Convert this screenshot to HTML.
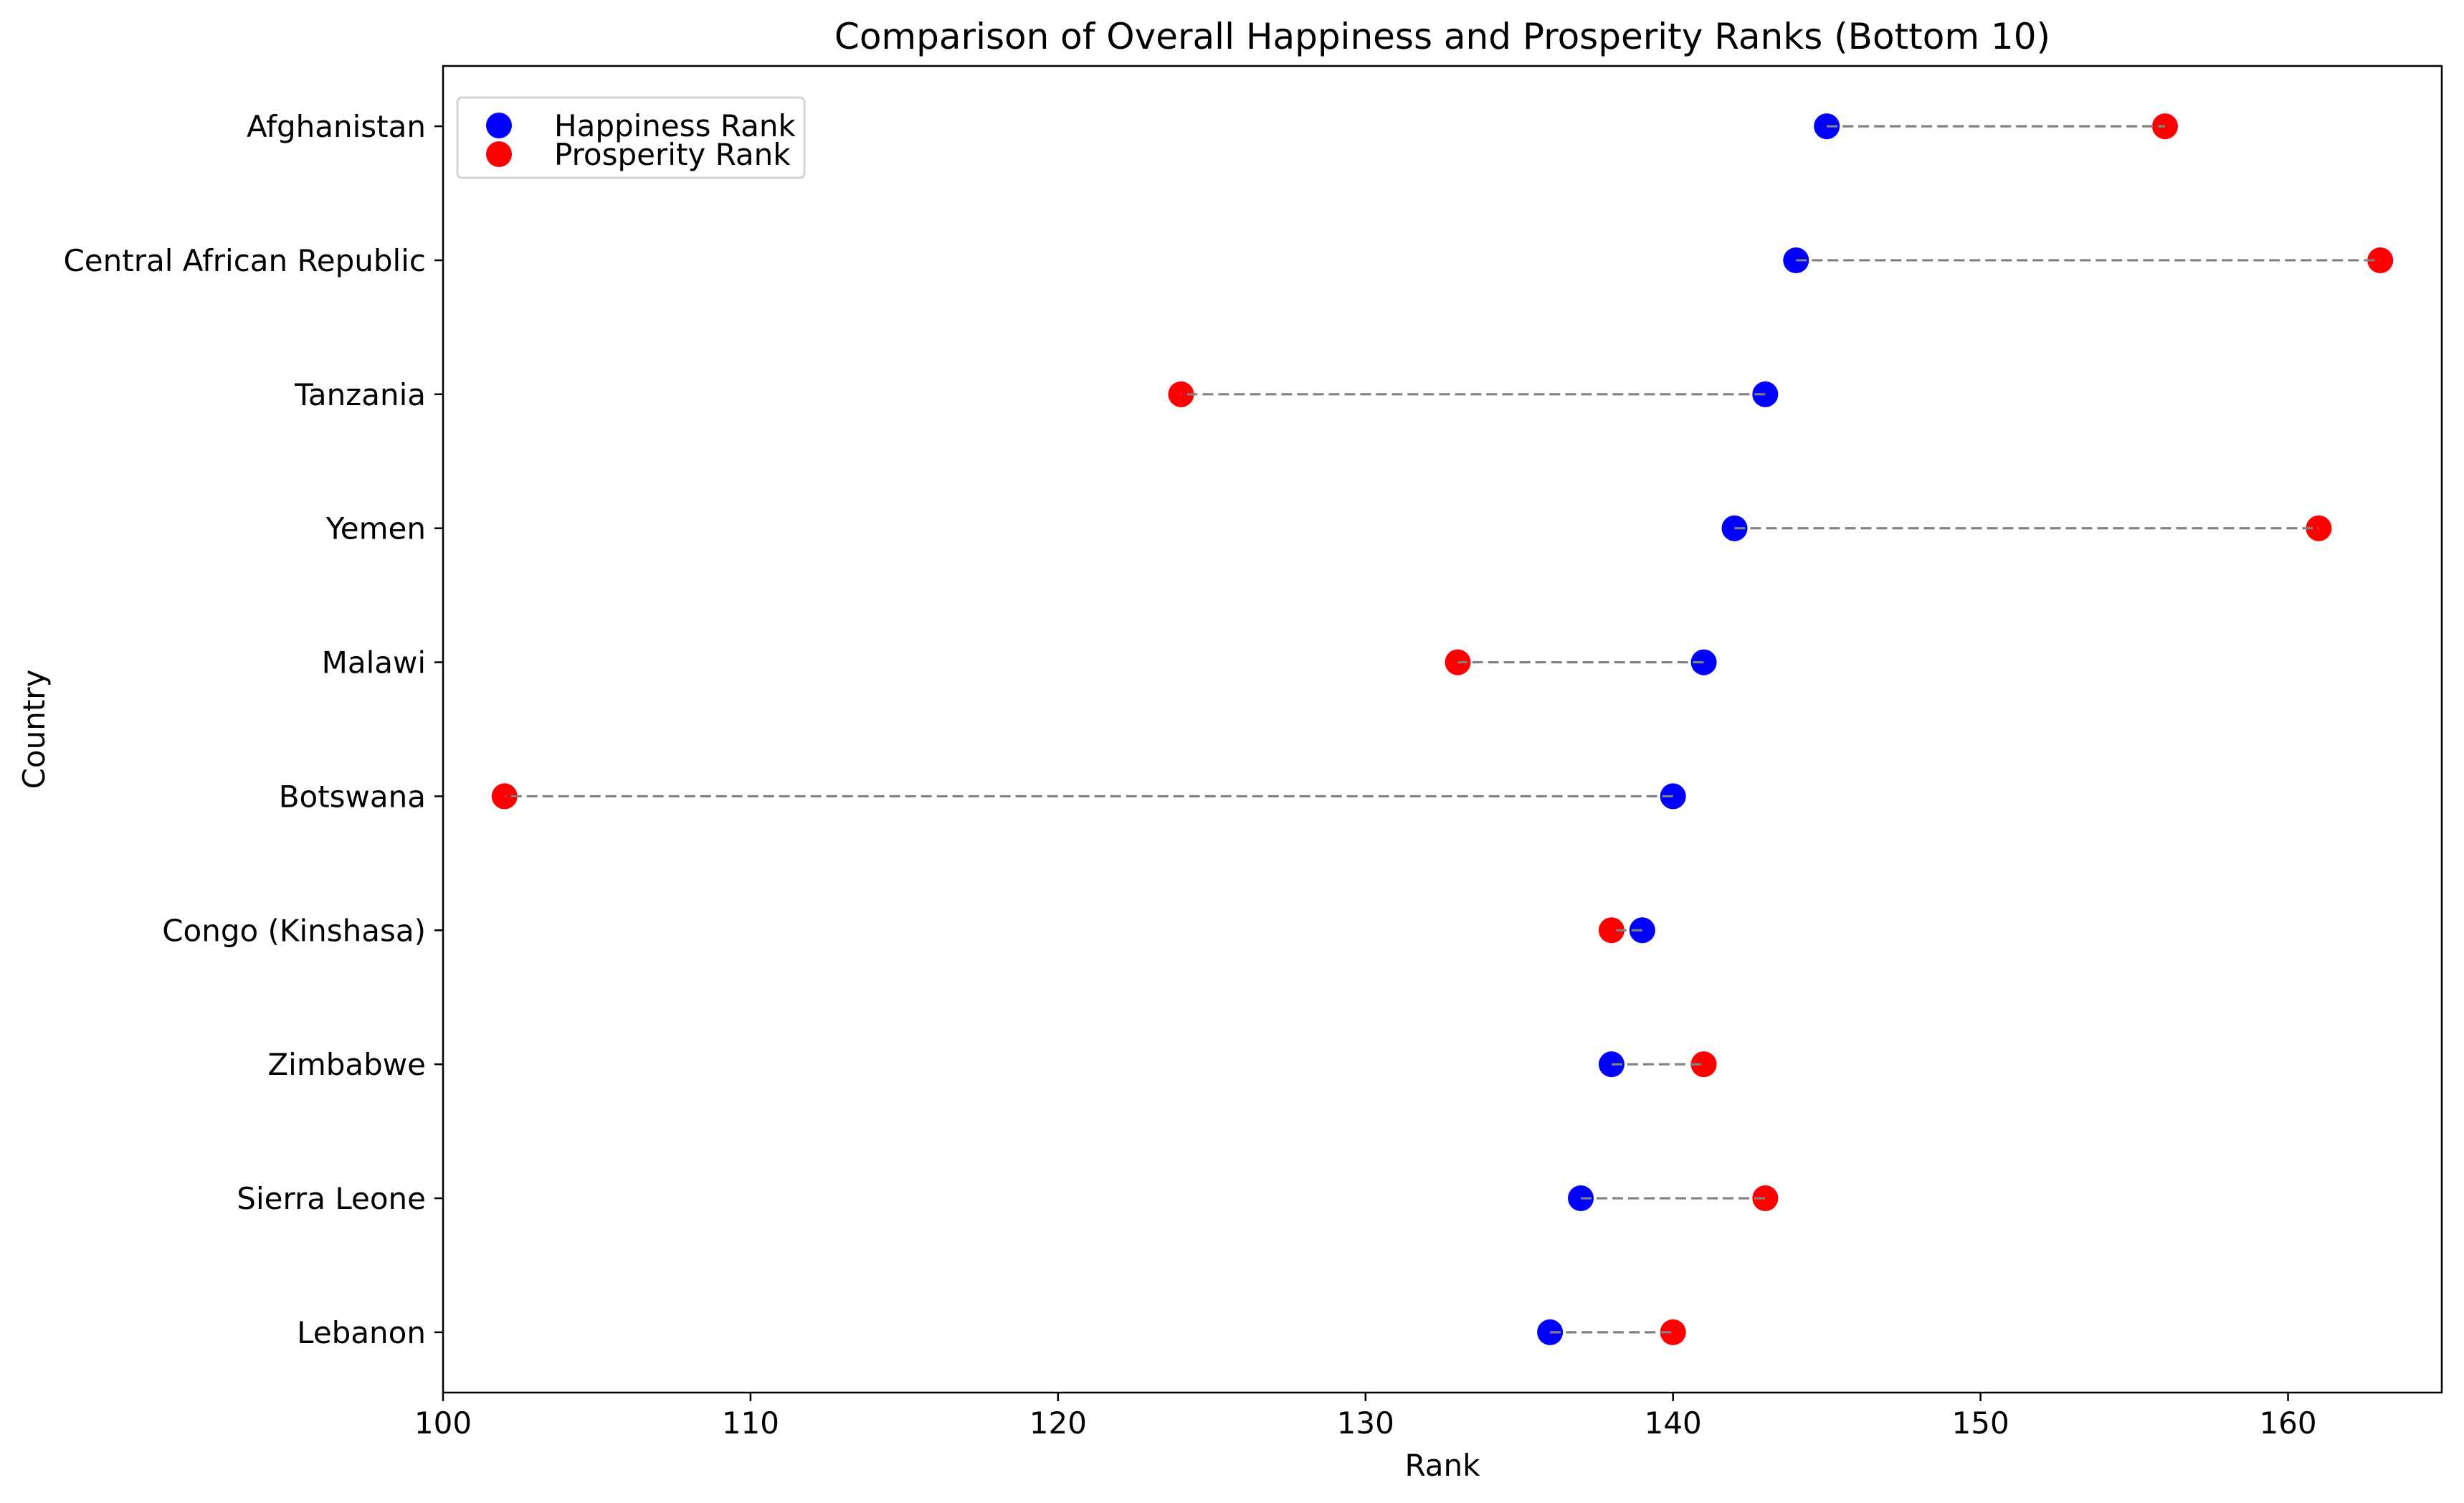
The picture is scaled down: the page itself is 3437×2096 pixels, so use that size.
<!DOCTYPE html>
<html><head><meta charset="utf-8">
<style>
html,body{margin:0;padding:0;background:#fff;}
svg{display:block;font-family:"DejaVu Sans","Liberation Sans",sans-serif;}
</style></head>
<body>
<svg id="chart" width="3437" height="2096" viewBox="0 0 3437 2096" xmlns="http://www.w3.org/2000/svg">
<rect x="0" y="0" width="3437" height="2096" fill="#fff"/>
<text x="2012" y="68" font-size="50" text-anchor="middle">Comparison of Overall Happiness and Prosperity Ranks (Bottom 10)</text>
<g id="plot"></g>
<rect x="618" y="92" width="2788" height="1850" fill="none" stroke="#000" stroke-width="2.5"/>
<text x="2012" y="2058" font-size="42" text-anchor="middle">Rank</text>
<text x="0" y="0" font-size="42" text-anchor="middle" transform="translate(62,1017) rotate(-90)">Country</text>
<g>
<rect x="638" y="136" width="484" height="112" rx="6" fill="#fff" stroke="#d5d5d5" stroke-width="3"/>
<circle cx="696" cy="175" r="18" fill="#0000ff"/>
<text x="773" y="190" font-size="42">Happiness Rank</text>
<circle cx="696" cy="215" r="18" fill="#ff0000"/>
<text x="773" y="230" font-size="42">Prosperity Rank</text>
</g>
</svg>
<script>
const countries = ["Afghanistan","Central African Republic","Tanzania","Yemen","Malawi","Botswana","Congo (Kinshasa)","Zimbabwe","Sierra Leone","Lebanon"];
const happinessRank = [145,144,143,142,141,140,139,138,137,136];
const prosperityRank = [156,163,124,161,133,102,138,141,143,140];
const xTicks = [100,110,120,130,140,150,160];

const L=618,R=3406,T=92,B=1942,xmin=100,xmax=165;
const n=countries.length;
function xs(v){return L+(v-xmin)/(xmax-xmin)*(R-L);}
const ymin=-0.45,ymax=(n-1)+0.45;
function ys(i){const idx=n-1-i;return B-(idx-ymin)/(ymax-ymin)*(B-T);}
const NS="http://www.w3.org/2000/svg";
const plot=document.getElementById('plot');
function mk(tag,attrs,parent){const e=document.createElementNS(NS,tag);for(const k in attrs)e.setAttribute(k,attrs[k]);(parent||plot).appendChild(e);return e;}

xTicks.forEach(t=>{
  const x=xs(t);
  const tk=mk('line',{x1:x,x2:x,y1:B,y2:B+12,stroke:'#000','stroke-width':2.5});
  
  
  const lb=mk('text',{x:x,y:B+57,'font-size':42,'text-anchor':'middle'});
  
  
  lb.textContent=t;
});
countries.forEach((c,i)=>{
  const y=ys(i);
  const tk=mk('line',{x1:L-12,x2:L,y1:y,y2:y,stroke:'#000','stroke-width':2.5});
  
  
  const lb=mk('text',{x:L-24,y:y+15,'font-size':42,'text-anchor':'end'});
  
  
  lb.textContent=c;
});
countries.forEach((c,i)=>{
  const y=ys(i);
  const h=mk('circle',{cx:xs(happinessRank[i]),cy:y,r:18,fill:'#0000ff'});
  
  
  const p=mk('circle',{cx:xs(prosperityRank[i]),cy:y,r:18,fill:'#ff0000'});
  
  
});
countries.forEach((c,i)=>{
  const y=ys(i);
  const ln=mk('line',{x1:xs(happinessRank[i]),x2:xs(prosperityRank[i]),y1:y,y2:y,stroke:'#808080','stroke-width':3.2,'stroke-dasharray':'15,7'});
  
  
});
</script>
</body></html>
